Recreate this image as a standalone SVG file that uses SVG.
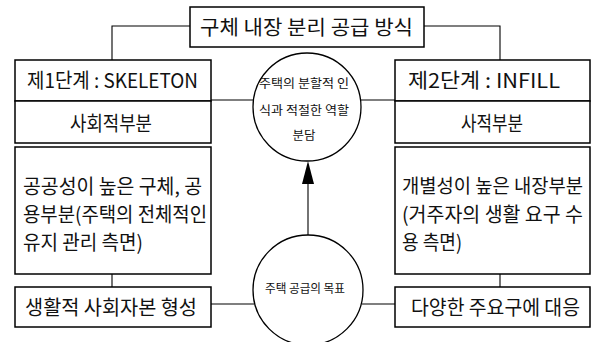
<svg xmlns="http://www.w3.org/2000/svg" width="593" height="342" viewBox="0 0 593 342">
<style>
.box{fill:#fff;stroke:#000;stroke-width:1.5}
.circ{fill:#fff;stroke:#000;stroke-width:1.3}
.ln{fill:none;stroke:#000;stroke-width:1.1}
text{font-family:"Noto Sans CJK KR","Noto Sans",sans-serif;fill:#111}
.t{font-size:20px}
.c{text-anchor:middle}
.s{font-size:12.5px}
</style>
<rect width="593" height="342" fill="#fff"/>
<g id="connectors">
<polyline class="ln" points="190,26 112,26 112,60"/>
<polyline class="ln" points="424,26 500,26 500,60"/>
<line class="ln" x1="211" y1="100" x2="253" y2="100"/>
<line class="ln" x1="361" y1="100" x2="395" y2="100"/>
<line class="ln" x1="211" y1="304" x2="254" y2="304"/>
<line class="ln" x1="362" y1="304" x2="395" y2="304"/>
<line class="ln" x1="112" y1="274" x2="112" y2="287"/>
<line class="ln" x1="500" y1="274" x2="500" y2="287"/>
<line class="ln" x1="308" y1="235" x2="308" y2="180"/>
<polygon points="308,161 302,184 314,184" fill="#000"/>
</g>
<g id="title">
<rect class="box" x="190" y="7" width="234" height="40"/>
<text class="t" x="200" y="35" textLength="213" lengthAdjust="spacingAndGlyphs">구체 내장 분리 공급 방식</text>
</g>
<g id="skeleton">
<rect class="box" x="15" y="60" width="196" height="41"/>
<text class="t" x="27" y="88" textLength="171" lengthAdjust="spacingAndGlyphs">제1단계 : SKELETON</text>
</g>
<g id="social">
<rect class="box" x="15" y="101" width="196" height="42"/>
<text class="t" x="70" y="131" textLength="82" lengthAdjust="spacingAndGlyphs">사회적부분</text>
</g>
<g id="skeleton-desc">
<rect class="box" x="15" y="147" width="196" height="127"/>
<text class="t" x="23" y="194" textLength="179" lengthAdjust="spacingAndGlyphs">공공성이 높은 구체, 공</text>
<text class="t" x="23" y="222" textLength="184" lengthAdjust="spacingAndGlyphs">용부분(주택의 전체적인</text>
<text class="t" x="23" y="250" textLength="120" lengthAdjust="spacingAndGlyphs">유지 관리 측면)</text>
</g>
<g id="social-capital">
<rect class="box" x="15" y="287" width="196" height="40"/>
<text class="t" x="25" y="315" textLength="172" lengthAdjust="spacingAndGlyphs">생활적 사회자본 형성</text>
</g>
<g id="infill">
<rect class="box" x="395" y="60" width="195" height="41"/>
<text class="t" x="408" y="88" textLength="152" lengthAdjust="spacingAndGlyphs">제2단계 : INFILL</text>
</g>
<g id="private">
<rect class="box" x="395" y="101" width="195" height="42"/>
<text class="t" x="461" y="131" textLength="62" lengthAdjust="spacingAndGlyphs">사적부분</text>
</g>
<g id="infill-desc">
<rect class="box" x="395" y="147" width="195" height="127"/>
<text class="t" x="402" y="193" font-size="19" style="font-size:19px" textLength="181" lengthAdjust="spacingAndGlyphs">개별성이 높은 내장부분</text>
<text class="t" x="402" y="222" textLength="181" lengthAdjust="spacingAndGlyphs">(거주자의 생활 요구 수</text>
<text class="t" x="402" y="250" textLength="60" lengthAdjust="spacingAndGlyphs">용 측면)</text>
</g>
<g id="diverse-needs">
<rect class="box" x="395" y="287" width="195" height="40"/>
<text class="t" x="411" y="315" textLength="169" lengthAdjust="spacingAndGlyphs">다양한 주요구에 대응</text>
</g>
<g id="role">
<circle class="circ" cx="307" cy="107" r="54"/>
<text class="s c" x="304" y="88" textLength="90" lengthAdjust="spacingAndGlyphs">주택의 분할적 인</text>
<text class="s c" x="304" y="115" textLength="90" lengthAdjust="spacingAndGlyphs">식과 적절한 역할</text>
<text class="s c" x="304" y="140">분담</text>
</g>
<g id="goal">
<circle class="circ" cx="308" cy="290" r="55"/>
<text class="s c" x="305" y="293" textLength="80" lengthAdjust="spacingAndGlyphs">주택 공급의 목표</text>
</g>
</svg>
